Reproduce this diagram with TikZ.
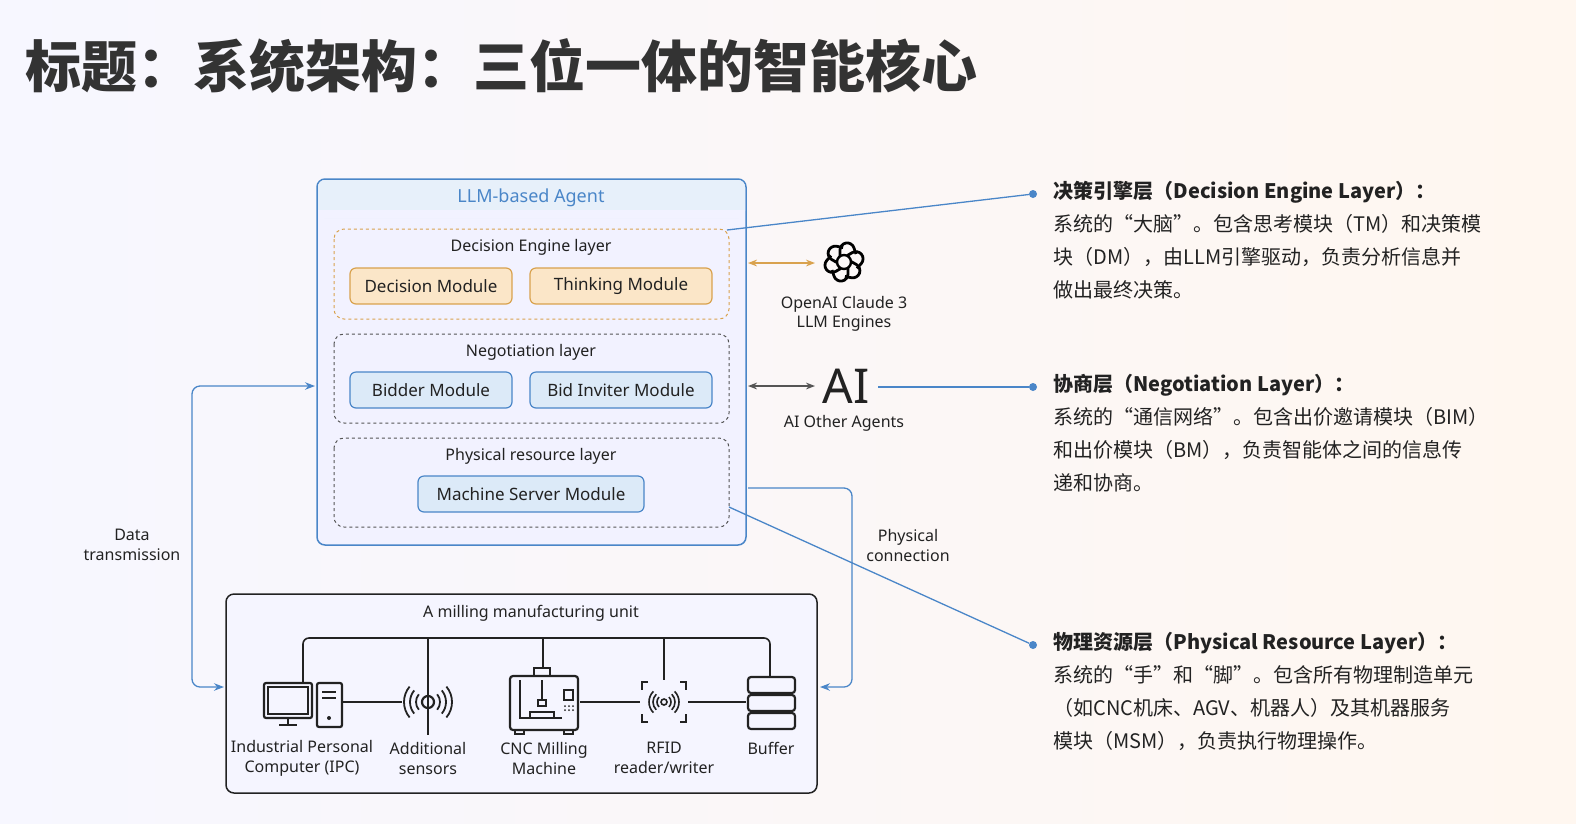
\documentclass[tikz,border=0pt]{standalone}
\usepackage{fontspec}
\setmainfont{Noto Sans}
\newfontfamily\cjk{Noto Sans CJK SC}
\usetikzlibrary{arrows.meta,shapes.geometric}
\definecolor{bl}{HTML}{4A86C8}
\definecolor{blf}{HTML}{DCEAF8}
\definecolor{orl}{HTML}{D9A24E}
\definecolor{orf}{HTML}{FBE6C8}
\definecolor{tx}{HTML}{222222}
\definecolor{gr}{HTML}{555555}
\begin{document}
\begin{tikzpicture}[x=1pt,y=-1pt,
  every node/.style={text=tx},
  mod/.style={draw=bl,fill=blf,rounded corners=6,line width=1.2,minimum height=36,font=\fontsize{17}{17}\selectfont,inner sep=0},
  omod/.style={mod,draw=orl,fill=orf},
  layer/.style={draw=gr,dashed,rounded corners=10,line width=1},
  lab/.style={font=\fontsize{16}{20}\selectfont,align=center},
  rt/.style={font=\cjk\fontsize{20}{33}\selectfont,anchor=north west,align=left},
  dot/.style={circle,fill=bl,inner sep=0,minimum size=8},
  conn/.style={bl,line width=1.3},
  ic/.style={draw=tx,line width=2.2}]
\useasboundingbox (0,0) rectangle (1576,823);
\shade[left color=white!92!blue!40!white,right color=orange!6!white] (0,0) rectangle (1576,823);
\node[anchor=west,font=\cjk\bfseries\fontsize{56}{56}\selectfont,text=black!80] (title) at (22,66) {标题：系统架构：三位一体的智能核心};

% agent box
\draw[bl,line width=1.5,fill=white!95!blue,rounded corners=8] (317,179) rectangle (746,545);
\fill[blf!70!white,rounded corners=7] (318,180) rectangle (745,218);
\fill[white!95!blue] (318,210) rectangle (745,218);
\node[font=\fontsize{18}{18}\selectfont,text=bl] (agent) at (531,198) {LLM-based Agent};
\draw[layer,draw=orl] (334,229) rectangle (729,319);
\draw[layer] (334,334) rectangle (729,423);
\draw[layer] (334,438) rectangle (729,527);
\node[lab] (l1) at (531,247) {Decision Engine layer};
\node[lab] (l2) at (531,352) {Negotiation layer};
\node[lab] (l3) at (531,456) {Physical resource layer};
\node[omod,minimum width=162] (dm) at (431,286) {Decision Module};
\node[omod,minimum width=182] (tm) at (621,286) {Thinking Module};
\node[mod,minimum width=162] (bm) at (431,390) {Bidder Module};
\node[mod,minimum width=182] (bim) at (621,390) {Bid Inviter Module};
\node[mod,minimum width=226] (msm) at (531,494) {Machine Server Module};
\coordinate (delr) at (727,230);
\coordinate (phr) at (729,507);
\coordinate (agr1) at (748,263);
\coordinate (agr2) at (748,386);
\coordinate (agr3) at (748,488);
\coordinate (agl) at (315,386);

% engines
\begin{scope}[shift={(844,262)}]
\foreach \a in {0,60,...,300}
  \draw[line width=2.8,rotate=\a,rounded corners=6] (-4,-6) -- (-4,-18) -- (8,-20) -- (12,-8);
\draw[line width=2.4] (0,0) circle (7);
\end{scope}
\coordinate (logo) at (815,263);
\node[lab,font=\fontsize{16}{19}\selectfont] (oai) at (844,314) {OpenAI Claude 3\\LLM Engines};
\node[font=\fontsize{48}{48}\selectfont] (ai) at (846,386) {AI};
\coordinate (ail) at (815,386);
\coordinate (air) at (878,387);
\node[lab] (oag) at (844,423) {AI Other Agents};
\draw[{Stealth[length=9]}-{Stealth[length=9]},orl,line width=1.8] (agr1) -- (logo);
\draw[{Stealth[length=9]}-{Stealth[length=9]},gr,line width=1.8] (agr2) -- (ail);

% right text
\node[dot] (d1) at (1033,194) {};
\node[dot] (d2) at (1033,387) {};
\node[dot] (d3) at (1033,645) {};
\draw[conn] (delr) -- (d1);
\draw[conn] (air) -- (d2);
\draw[conn] (phr) -- (d3);
\node[rt] (t1) at (1050,178) {\textbf{决策引擎层（Decision Engine Layer）：}\\系统的“大脑”。包含思考模块（TM）和决策模\\块（DM），由LLM引擎驱动，负责分析信息并\\做出最终决策。};
\node[rt] (t2) at (1050,371) {\textbf{协商层（Negotiation Layer）：}\\系统的“通信网络”。包含出价邀请模块（BIM）\\和出价模块（BM），负责智能体之间的信息传\\递和协商。};
\node[rt] (t3) at (1050,629) {\textbf{物理资源层（Physical Resource Layer）：}\\系统的“手”和“脚”。包含所有物理制造单元\\（如CNC机床、AGV、机器人）及其机器服务\\模块（MSM），负责执行物理操作。};

% unit box
\draw[tx,line width=1.5,fill=white!96!blue,rounded corners=8] (226,594) rectangle (817,793);
\node[lab] (unit) at (531,613) {A milling manufacturing unit};
\coordinate (ul) at (224,687);
\coordinate (ur) at (820,687);
\draw[conn,-{Stealth[length=10]},rounded corners=8] (agr3) -| (852,600) |- (ur);
\draw[conn,{Stealth[length=10]}-{Stealth[length=10]},rounded corners=8] (ul) -| (192,500) |- (agl);
\node[lab] (dt) at (132,545) {Data\\transmission};
\node[lab] (pc) at (908,545) {Physical\\connection};

% bus
\draw[tx,line width=1.6,rounded corners=6] (303,682) |- (770,638) -- (770,677);
\draw[tx,line width=1.6] (428,638) -- (428,735) (543,638) -- (543,668) (664,638) -- (664,680);
\draw[tx,line width=1.6] (343,702) -- (402,702) (580,702) -- (640,702) (688,702) -- (746,702);
% computer
\draw[ic,rounded corners=2] (264,683) rectangle (312,718);
\draw[ic] (268,687) rectangle (308,714);
\draw[ic] (288,718) -- (288,724) (279,725) -- (297,725);
\draw[ic,rounded corners=2] (317,683) rectangle (342,727);
\draw[ic] (322,692) -- (336,692) (322,698) -- (336,698);
\fill[tx] (329,718) circle (2);
% sensor
\draw[ic] (428,702) circle (6);
\foreach \r in {12,18,24}{
  \draw[ic,line width=1.8] (428,702) ++(-40:\r) arc (-40:40:\r);
  \draw[ic,line width=1.8] (428,702) ++(140:\r) arc (140:220:\r);}
% CNC
\draw[ic,rounded corners=3] (510,676) rectangle (578,730);
\draw[ic] (534,668) rectangle (550,676);
\draw[ic] (520,680) -- (520,718) -- (562,718) (542,680) -- (542,700);
\draw[ic,line width=1.6] (538,700) rectangle (546,706);
\draw[ic] (530,718) rectangle (554,712);
\draw[ic,line width=1.6] (564,690) rectangle (573,700);
\foreach \i in {0,1,2} \foreach \j in {0,1} \fill[tx] (565+4*\i,706+4*\j) circle (1);
\draw[ic] (515,730) rectangle (524,734) (564,730) rectangle (573,734);
% RFID
\foreach \s in {1,-1}{
  \draw[ic,line width=1.8] (664+\s*16,682) -- (664+\s*22,682) -- (664+\s*22,690);
  \draw[ic,line width=1.8] (664+\s*16,722) -- (664+\s*22,722) -- (664+\s*22,714);}
\draw[ic,line width=1.6] (664,702) circle (3);
\foreach \r in {7,11,15}{
  \draw[ic,line width=1.6] (664,702) ++(-45:\r) arc (-45:45:\r);
  \draw[ic,line width=1.6] (664,702) ++(135:\r) arc (135:225:\r);}
% buffer
\foreach \y in {677,695,713}
  \draw[ic,rounded corners=3] (748,\y) rectangle (795,\y+16);

\node[lab] (n1) at (302,758) {Industrial Personal\\Computer (IPC)};
\node[lab] (n2) at (428,758) {Additional\\sensors};
\node[lab] (n3) at (544,758) {CNC Milling\\Machine};
\node[lab] (n4) at (664,758) {RFID\\reader/writer};
\node[lab] (n5) at (771,748) {Buffer};
\end{tikzpicture}
\end{document}
